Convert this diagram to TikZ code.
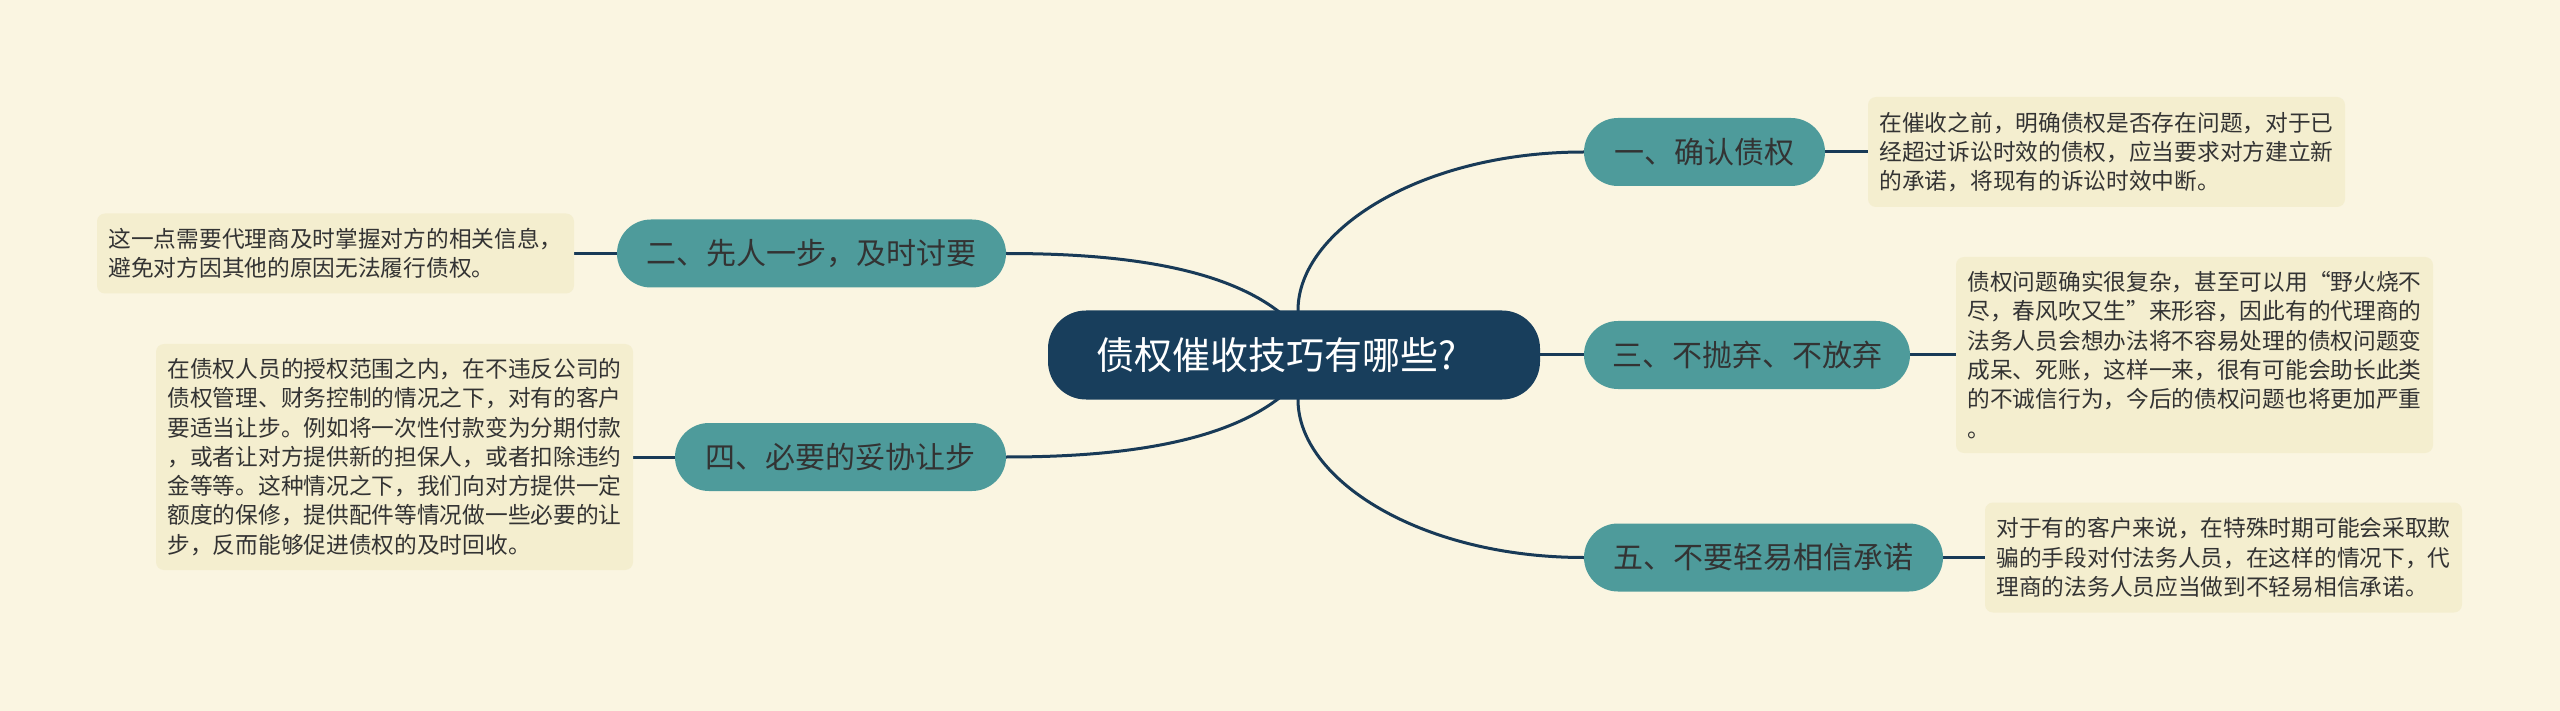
\documentclass[tikz,border=0pt]{standalone}
\usepackage{fontspec}
\setmainfont{Noto Sans CJK SC}
\usetikzlibrary{calc}
\definecolor{bgc}{HTML}{FAF5E1}
\definecolor{notec}{HTML}{F4EECF}
\definecolor{tealc}{HTML}{4E9B9B}
\definecolor{rootc}{HTML}{183E5C}
\definecolor{linec}{HTML}{183A57}
\definecolor{txtc}{HTML}{333333}
\pgfdeclarelayer{bg}
\pgfdeclarelayer{lines}
\pgfsetlayers{bg,lines,main}
\begin{document}
\begin{tikzpicture}[x=1pt,y=-1pt,
  conn/.style={draw=linec, line width=3pt},
  root/.style={fill=rootc, text=white, rounded corners=38pt, minimum width=492pt, minimum height=89pt, inner sep=0pt, font=\fontsize{38}{44}\selectfont},
  branch/.style={fill=tealc, text=txtc, rounded corners=34pt, minimum height=68pt, inner sep=0pt, font=\fontsize{30}{36}\selectfont},
  note/.style={fill=notec, text=txtc, rounded corners=8pt, text width=454pt, align=left, inner xsep=11.5pt, inner ysep=0pt, font=\fontsize{22.7}{29.3}\selectfont}
]
\useasboundingbox (0,0) rectangle (2560,711);
\begin{pgfonlayer}{bg}
\fill[bgc] (0,0) rectangle (2560,711);
\end{pgfonlayer}

\node[root] (c) at (1294,355) {\hspace*{-36pt}债权催收技巧有哪些?};

\node[branch, minimum width=241pt] (b1) at (1704.5,152) {一、确认债权};
\node[branch, minimum width=326pt] (b3) at (1747,355) {三、不抛弃、不放弃};
\node[branch, minimum width=359pt] (b5) at (1763.5,557.5) {五、不要轻易相信承诺};
\node[branch, minimum width=389pt] (b2) at (811.5,253.5) {二、先人一步，及时讨要};
\node[branch, minimum width=331pt] (b4) at (840.5,457) {四、必要的妥协让步};

\node[note, minimum height=110pt] (t1) at (2106.5,152) {在催收之前，明确债权是否存在问题，对于已\\经超过诉讼时效的债权，应当要求对方建立新\\的承诺，将现有的诉讼时效中断。};
\node[note, minimum height=196pt] (t3) at (2194.5,355) {债权问题确实很复杂，甚至可以用“野火烧不\\尽，春风吹又生”来形容，因此有的代理商的\\法务人员会想办法将不容易处理的债权问题变\\成呆、死账，这样一来，很有可能会助长此类\\的不诚信行为，今后的债权问题也将更加严重\\。};
\node[note, minimum height=110pt] (t5) at (2223.5,557.5) {对于有的客户来说，在特殊时期可能会采取欺\\骗的手段对付法务人员，在这样的情况下，代\\理商的法务人员应当做到不轻易相信承诺。};
\node[note, minimum height=80pt] (t2) at (335.5,253.5) {这一点需要代理商及时掌握对方的相关信息，\\避免对方因其他的原因无法履行债权。};
\node[note, minimum height=226pt] (t4) at (394.5,457) {在债权人员的授权范围之内，在不违反公司的\\债权管理、财务控制的情况之下，对有的客户\\要适当让步。例如将一次性付款变为分期付款\\，或者让对方提供新的担保人，或者扣除违约\\金等等。这种情况之下，我们向对方提供一定\\额度的保修，提供配件等情况做一些必要的让\\步，反而能够促进债权的及时回收。};

\begin{pgfonlayer}{lines}
\draw[conn] ($(c.north)+(4,15)$) -- ($(c.north)+(4,0)$) .. controls ($(c.north)+(4,-80)$) and ($(b1.west)+(-163,0)$) .. (b1.west);
\draw[conn] ($(c.south)+(4,-15)$) -- ($(c.south)+(4,0)$) .. controls ($(c.south)+(4,80)$) and ($(b5.west)+(-163,0)$) .. (b5.west);
\draw[conn] (c.east) -- (b3.west);
\draw[conn] (b2.east) .. controls ($(b2.east)+(94,0)$) and ($(c.north)+(-81,-48)$) .. ($(c.north)+(-17,0)$) -- ($(c.north)+(3,15)$);
\draw[conn] (b4.east) .. controls ($(b4.east)+(94,0)$) and ($(c.south)+(-81,48)$) .. ($(c.south)+(-17,0)$) -- ($(c.south)+(3,-15)$);
\draw[conn] (b1.east) -- (t1.west);
\draw[conn] (b3.east) -- (t3.west);
\draw[conn] (b5.east) -- (t5.west);
\draw[conn] (b2.west) -- (t2.east);
\draw[conn] (b4.west) -- (t4.east);
\end{pgfonlayer}
\end{tikzpicture}
\end{document}
